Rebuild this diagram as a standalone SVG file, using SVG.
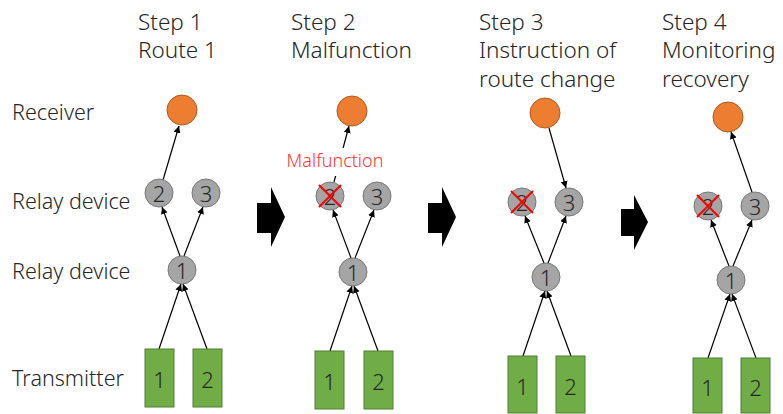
<svg xmlns="http://www.w3.org/2000/svg" width="783" height="414" viewBox="0 0 783 414">
<defs>
<marker id="ah" viewBox="0 0 10 10" refX="10" refY="5" markerWidth="7" markerHeight="7" orient="auto" markerUnits="userSpaceOnUse"><path d="M0,0 L10,5 L0,10 z" fill="#000"/></marker>
</defs>
<style>
text{font-family:"Noto Sans","Noto Sans CJK JP",sans-serif;fill:#262626;font-weight:300}
.t{font-size:22.5px}
.lab{font-size:21.5px}
.n{font-size:22px;text-anchor:middle;dominant-baseline:central}
.rcv{fill:#ED7D31;stroke:#AE5A21;stroke-width:1}
.rly{fill:#A5A5A5;stroke:#787878;stroke-width:1}
.tx{fill:#70AD47;stroke:#507E32;stroke-width:1}
.c{stroke:#000;stroke-width:1.2;fill:none;marker-end:url(#ah)}
.x{stroke:#FF0000;stroke-width:2}
.ba{fill:#000}
.mf{font-size:18px;fill:#FF3333;text-anchor:middle}
</style>
<rect width="783" height="414" fill="#fff"/>
<g id="titles">
<text class="t" x="138" y="30">Step 1</text><text class="t" x="138" y="58">Route 1</text>
<text class="t" x="291" y="30">Step 2</text><text class="t" x="291" y="58">Malfunction</text>
<text class="t" x="479" y="30">Step 3</text><text class="t" x="479" y="58">Instruction of</text><text class="t" x="479" y="87">route change</text>
<text class="t" x="662" y="30">Step 4</text><text class="t" x="662" y="58">Monitoring</text><text class="t" x="662" y="87">recovery</text>
</g>
<g id="rowlabels">
<text class="lab" x="12" y="120">Receiver</text>
<text class="lab" x="12" y="209">Relay device</text>
<text class="lab" x="12" y="279">Relay device</text>
<text class="lab" x="12" y="386">Transmitter</text>
</g>
<g id="connectors">
<line class="c" x1="163" y1="180" x2="179" y2="126"/>
<line class="c" x1="180" y1="256" x2="162" y2="207"/>
<line class="c" x1="184" y1="256" x2="203" y2="207"/>
<line class="c" x1="159" y1="349" x2="181" y2="284"/>
<line class="c" x1="207" y1="349" x2="183" y2="284"/>

<line class="c" x1="334" y1="182" x2="349" y2="126"/>
<line class="c" x1="351" y1="258" x2="333" y2="210"/>
<line class="c" x1="355" y1="258" x2="374" y2="210"/>
<line class="c" x1="330" y1="351" x2="352" y2="286"/>
<line class="c" x1="378" y1="351" x2="354" y2="286"/>

<line class="c" x1="549" y1="128" x2="566" y2="188"/>
<line class="c" x1="544" y1="263" x2="525" y2="216"/>
<line class="c" x1="548" y1="263" x2="566" y2="216"/>
<line class="c" x1="523" y1="356" x2="545" y2="291"/>
<line class="c" x1="571" y1="356" x2="547" y2="291"/>

<line class="c" x1="752" y1="192" x2="731" y2="132"/>
<line class="c" x1="729" y1="266" x2="711" y2="220"/>
<line class="c" x1="733" y1="266" x2="752" y2="220"/>
<line class="c" x1="708" y1="358" x2="730" y2="294"/>
<line class="c" x1="756" y1="358" x2="732" y2="294"/>
</g>
<g id="col1">
<g id="c1-receiver"><circle class="rcv" cx="182" cy="110" r="15"/></g>
<g id="c1-relay2"><circle class="rly" cx="159" cy="193" r="14"/><text class="n" x="159" y="193">2</text></g>
<g id="c1-relay3"><circle class="rly" cx="206" cy="193" r="14"/><text class="n" x="206" y="193">3</text></g>
<g id="c1-relay1"><circle class="rly" cx="182" cy="270" r="14"/><text class="n" x="182" y="270">1</text></g>
<g id="c1-tx1"><rect class="tx" x="145" y="349" width="29" height="58"/><text class="n" x="159.5" y="379">1</text></g>
<g id="c1-tx2"><rect class="tx" x="193" y="349" width="29" height="58"/><text class="n" x="207.5" y="379">2</text></g>
</g>
<g id="col2">
<g id="c2-receiver"><circle class="rcv" cx="352" cy="111" r="15"/></g>
<g id="c2-relay2"><circle class="rly" cx="330" cy="196" r="14"/><text class="n" x="330" y="196">2</text><path class="x" d="M319,185 L341,207 M341,185 L319,207"/></g>
<g id="c2-relay3"><circle class="rly" cx="377" cy="196" r="14"/><text class="n" x="377" y="196">3</text></g>
<g id="c2-relay1"><circle class="rly" cx="353" cy="272" r="14"/><text class="n" x="353" y="272">1</text></g>
<g id="c2-tx1"><rect class="tx" x="315" y="351" width="29" height="58"/><text class="n" x="329.5" y="381">1</text></g>
<g id="c2-tx2"><rect class="tx" x="364" y="351" width="29" height="58"/><text class="n" x="378.5" y="381">2</text></g>
<g id="c2-malfunction"><rect x="283" y="148" width="104" height="28" fill="#fff"/><text class="mf" x="335" y="167">Malfunction</text></g>
</g>
<g id="col3">
<g id="c3-receiver"><circle class="rcv" cx="545" cy="113" r="15"/></g>
<g id="c3-relay2"><circle class="rly" cx="522" cy="202" r="14"/><text class="n" x="522" y="202">2</text><path class="x" d="M511,191 L533,213 M533,191 L511,213"/></g>
<g id="c3-relay3"><circle class="rly" cx="569" cy="202" r="14"/><text class="n" x="569" y="202">3</text></g>
<g id="c3-relay1"><circle class="rly" cx="546" cy="277" r="14"/><text class="n" x="546" y="277">1</text></g>
<g id="c3-tx1"><rect class="tx" x="508" y="356" width="29" height="57"/><text class="n" x="522.5" y="386">1</text></g>
<g id="c3-tx2"><rect class="tx" x="556" y="356" width="29" height="57"/><text class="n" x="570.5" y="386">2</text></g>
</g>
<g id="col4">
<g id="c4-receiver"><circle class="rcv" cx="728" cy="117" r="15"/></g>
<g id="c4-relay2"><circle class="rly" cx="708" cy="206" r="14"/><text class="n" x="708" y="206">2</text><path class="x" d="M697,195 L719,217 M719,195 L697,217"/></g>
<g id="c4-relay3"><circle class="rly" cx="755" cy="206" r="14"/><text class="n" x="755" y="206">3</text></g>
<g id="c4-relay1"><circle class="rly" cx="731" cy="280" r="14"/><text class="n" x="731" y="280">1</text></g>
<g id="c4-tx1"><rect class="tx" x="693" y="358" width="29" height="55"/><text class="n" x="707.5" y="387">1</text></g>
<g id="c4-tx2"><rect class="tx" x="741" y="358" width="29" height="55"/><text class="n" x="755.5" y="387">2</text></g>
</g>
<g id="step-arrows">
<path class="ba" d="M257,203 L271,203 L271,187 L285,217 L271,247 L271,233 L257,233 z"/>
<path class="ba" d="M428,203 L442,203 L442,187 L456,217 L442,247 L442,233 L428,233 z"/>
<path class="ba" d="M621,209 L634,209 L634,195 L648,222 L634,250 L634,236 L621,236 z"/>
</g>
</svg>
